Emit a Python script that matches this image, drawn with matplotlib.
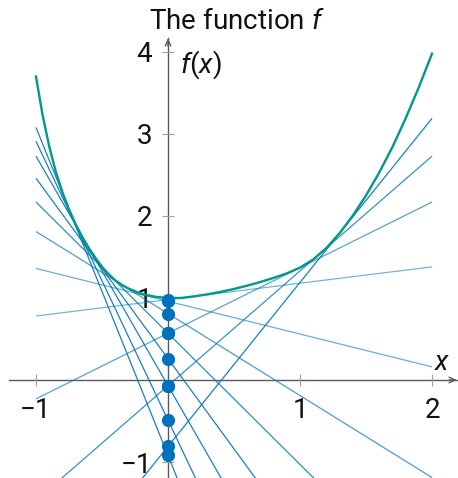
import matplotlib
matplotlib.use("Agg")
import matplotlib.pyplot as plt
import numpy as np

# Sampled values of f on [-1, 2]
curve_x = [-1.00, -0.95, -0.90, -0.85, -0.80, -0.75, -0.70, -0.65, -0.60, -0.55,
           -0.50, -0.45, -0.40, -0.35, -0.30, -0.20, -0.10, 0.00, 0.10, 0.20,
           0.30, 0.40, 0.50, 0.60, 0.70, 0.80, 0.90, 1.00, 1.10, 1.20,
           1.30, 1.40, 1.50, 1.60, 1.70, 1.80, 1.90, 2.00]
curve_y = [3.70, 3.23, 2.85, 2.54, 2.29, 2.08, 1.90, 1.745, 1.61, 1.49,
           1.38, 1.29, 1.215, 1.16, 1.115, 1.05, 1.015, 1.00, 1.00, 1.02,
           1.045, 1.075, 1.11, 1.15, 1.195, 1.245, 1.30, 1.37, 1.47, 1.61,
           1.79, 2.005, 2.25, 2.53, 2.84, 3.19, 3.57, 3.98]

# Tangent lines y = m*x + b
tangent_slopes = [-4.0, -3.4, -2.8, -2.2, -1.6, -1.0, -0.4, 0.2, 0.8, 1.4, 2.0]
tangent_intercepts = [-0.92, -0.49, -0.07, 0.26, 0.57, 0.81, 0.96, 0.98, 0.57, -0.07, -0.81]
line_domain = [-1.0, 2.0]

x_ticks = [-1, 1, 2]
x_tick_labels = ["\u22121", "1", "2"]
y_ticks = [-1, 1, 2, 3, 4]
y_tick_labels = ["\u22121", "1", "2", "3", "4"]

plt.rcParams["font.family"] = ["Roboto", "DejaVu Sans"]
plt.rcParams["mathtext.fontset"] = "custom"
plt.rcParams["mathtext.rm"] = "Roboto"
plt.rcParams["mathtext.it"] = "Roboto:italic"

W, H = 458, 478
fig = plt.figure(figsize=(W / 100, H / 100), dpi=100)
ax = fig.add_axes([9 / W, 0, 448 / W, 440 / H])
xmin, xmax = -1.2045, 2.189
ymin, ymax = -1.195, 4.17
ax.set_xlim(xmin, xmax)
ax.set_ylim(ymin, ymax)

axis_color = "#5a5a5a"
for side in ("top", "right"):
    ax.spines[side].set_visible(False)
ax.spines["left"].set_position(("data", 0))
ax.spines["bottom"].set_position(("data", 0))
for side in ("left", "bottom"):
    ax.spines[side].set_color(axis_color)
    ax.spines[side].set_linewidth(1.0)
    ax.spines[side].set_zorder(1)

# arrow heads at the positive ends of both axes
ax.annotate("", xy=(xmax, 0), xytext=(xmax - 0.06, 0),
            arrowprops=dict(arrowstyle="->,head_length=0.45,head_width=0.2",
                            color=axis_color, lw=1.0, shrinkA=0, shrinkB=0),
            annotation_clip=False)
ax.annotate("", xy=(0, ymax), xytext=(0, ymax - 0.1),
            arrowprops=dict(arrowstyle="->,head_length=0.45,head_width=0.2",
                            color=axis_color, lw=1.0, shrinkA=0, shrinkB=0),
            annotation_clip=False)

ax.set_xticks(x_ticks)
ax.set_xticklabels(x_tick_labels)
ax.set_yticks(y_ticks)
ax.set_yticklabels(y_tick_labels)
ax.tick_params(axis="both", direction="inout", length=8, width=0.8,
               color="#a0a0a0", labelsize=20, labelcolor="#111111")
ax.tick_params(axis="x", pad=8)
ax.tick_params(axis="y", pad=7.5)

# tangent lines
xs = np.array(line_domain)
for m, b in zip(tangent_slopes, tangent_intercepts):
    strength = min(abs(m) / 2.0, 1.0)
    ax.plot(xs, m * xs + b, color="#0072BD", lw=0.9,
            alpha=0.5 + 0.4 * strength, zorder=2, solid_capstyle="butt")

# the function itself
ax.plot(curve_x, curve_y, color="#009988", lw=1.7, zorder=3)

# intercepts on the vertical axis
ax.plot(np.zeros(len(tangent_intercepts)), tangent_intercepts, "o",
        color="#0072BD", markersize=9.5, markeredgewidth=0, zorder=4)

ax.text(0.25, 3.84, "$f(x)$", fontsize=20, ha="center", va="center",
        color="#111111")
ax.text(2.08, 0.21, "$x$", fontsize=20, ha="center", va="center",
        color="#111111")

fig.text(236.5 / W, 1 - 29 / H, "The function $f$", fontsize=20,
         ha="center", va="baseline", color="#111111")

fig.savefig("out.png", dpi=100)
